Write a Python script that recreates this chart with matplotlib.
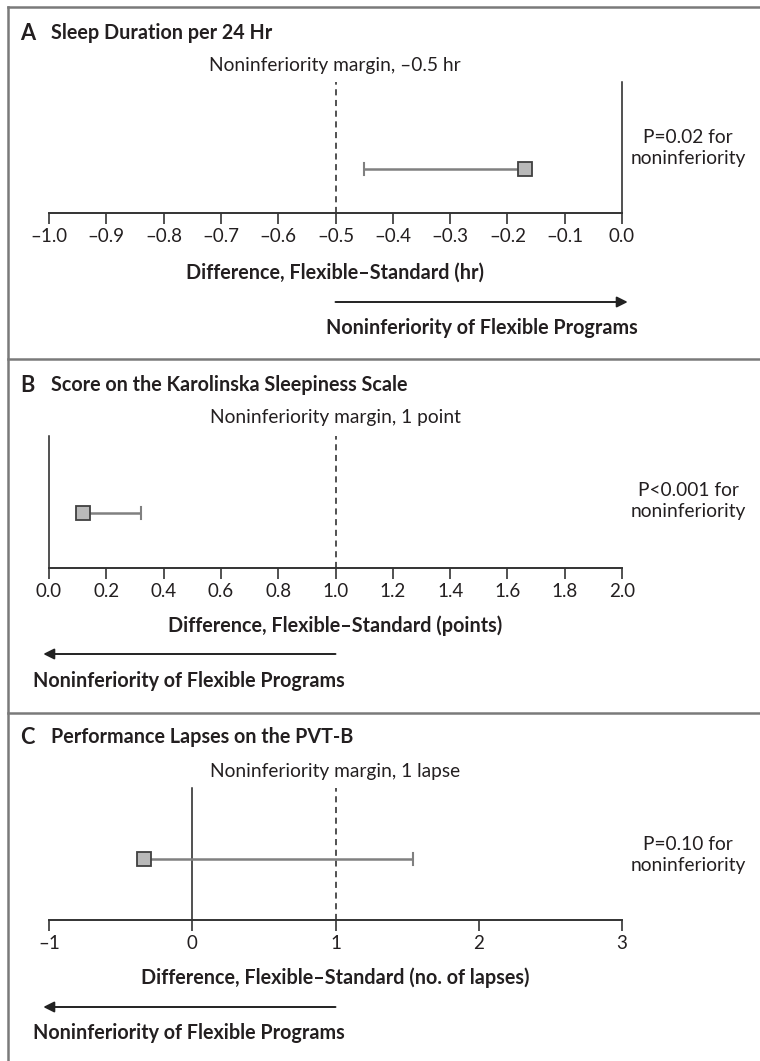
import numpy as np
import matplotlib.pyplot as plt
from matplotlib.lines import Line2D
import matplotlib.transforms as mtransforms

plt.rcParams['font.family'] = ['Lato', 'DejaVu Sans']

# data
panel_letters = ['A', 'B', 'C']
panel_titles = ['Sleep Duration per 24 Hr',
                'Score on the Karolinska Sleepiness Scale',
                'Performance Lapses on the PVT-B']
margin_labels = ['Noninferiority margin, \u20130.5 hr',
                 'Noninferiority margin, 1 point',
                 'Noninferiority margin, 1 lapse']
margins = [-0.5, 1.0, 1.0]
estimates = [-0.17, 0.12, -0.34]
ci_bounds = [-0.45, 0.32, 1.54]
p_labels = ['P=0.02 for\nnoninferiority',
            'P<0.001 for\nnoninferiority',
            'P=0.10 for\nnoninferiority']
x_labels = ['Difference, Flexible\u2013Standard (hr)',
            'Difference, Flexible\u2013Standard (points)',
            'Difference, Flexible\u2013Standard (no. of lapses)']
ticks_a = [-1.0, -0.9, -0.8, -0.7, -0.6, -0.5, -0.4, -0.3, -0.2, -0.1, 0.0]
ticks_b = [0.0, 0.2, 0.4, 0.6, 0.8, 1.0, 1.2, 1.4, 1.6, 1.8, 2.0]
ticks_c = [-1, 0, 1, 2, 3]
ticklabels_a = ['\u20131.0', '\u20130.9', '\u20130.8', '\u20130.7', '\u20130.6', '\u20130.5',
                '\u20130.4', '\u20130.3', '\u20130.2', '\u20130.1', '0.0']
ticklabels_b = ['0.0', '0.2', '0.4', '0.6', '0.8', '1.0', '1.2', '1.4', '1.6', '1.8', '2.0']
ticklabels_c = ['\u20131', '0', '1', '2', '3']
arrow_right = [True, False, False]
arrow_text = 'Noninferiority of Flexible Programs'

all_ticks = [ticks_a, ticks_b, ticks_c]
all_ticklabels = [ticklabels_a, ticklabels_b, ticklabels_c]

# layout in pixels (figure is 760 x 1061)
W, H = 760, 1061
AX_LEFT, AX_RIGHT = 49, 622
axis_top = [82, 436, 788]
axis_base = [213, 568, 920]
row_y = [169, 513, 859]
title_y = [33, 385, 737]
margin_y = [65, 418, 772]
p_y = [148, 501, 855]
xlabel_y = [273, 626, 978]
arrow_y = [302, 654, 1007]
arrowtext_y = [328, 681, 1033]
arrowtext_x = [482, 189, 189]
dividers = [359, 713]

TXT = '#231f20'
FRAME = '#7a7a7a'
FS_TICK = 13.5
FS_TEXT = 13.8
FS_BOLD = 14.2


def fx(px):
    return px / W


def fy(py):
    return 1 - py / H


fig = plt.figure(figsize=(7.6, 10.61), dpi=100)

# frame: top, left, dividers
fig.add_artist(Line2D([fx(8), fx(W)], [fy(7), fy(7)], color=FRAME, lw=1.8))
fig.add_artist(Line2D([fx(8), fx(8)], [fy(7), fy(H)], color=FRAME, lw=1.8))
for d in dividers:
    fig.add_artist(Line2D([fx(8), fx(W)], [fy(d), fy(d)], color=FRAME, lw=1.8))

for i in range(3):
    ticks = all_ticks[i]
    ax = fig.add_axes([fx(AX_LEFT), fy(axis_base[i]),
                       fx(AX_RIGHT) - fx(AX_LEFT),
                       (axis_base[i] - axis_top[i]) / H])
    ax.set_xlim(ticks[0], ticks[-1])
    y_row = (axis_base[i] - row_y[i]) / (axis_base[i] - axis_top[i])
    ax.set_ylim(0, 1)
    for s in ['top', 'right', 'left']:
        ax.spines[s].set_visible(False)
    ax.spines['bottom'].set_color('#333333')
    ax.spines['bottom'].set_linewidth(1.4)
    ax.set_yticks([])
    ax.set_xticks(ticks)
    ax.set_xticklabels(all_ticklabels[i])
    ax.tick_params(axis='x', direction='out', length=8, width=1.2, color='#333333',
                   labelsize=FS_TICK, labelcolor=TXT, pad=3)
    ax.patch.set_alpha(0)

    # zero line and noninferiority margin
    ax.axvline(0, color='#222222', lw=1.1, clip_on=False)
    ax.axvline(margins[i], color='#222222', lw=1.1, ls=(0, (4, 3)), clip_on=False)

    # confidence interval and estimate
    ax.plot([ci_bounds[i], estimates[i]], [y_row, y_row], color='#808080', lw=1.8,
            solid_capstyle='butt', zorder=3)
    ax.plot([ci_bounds[i], ci_bounds[i]], [y_row - 0.045, y_row + 0.045],
            color='#808080', lw=1.5, zorder=3)
    ax.plot(estimates[i], y_row, marker='s', ms=10.5, mfc='#b9b9b9', mec='#404040',
            mew=1.3, zorder=4, clip_on=False)

    # texts
    fig.text(fx(20), fy(title_y[i]), panel_letters[i], fontsize=FS_BOLD + 1.5,
             fontweight='bold', color=TXT, va='center', ha='left')
    fig.text(fx(51), fy(title_y[i]), panel_titles[i], fontsize=FS_BOLD,
             fontweight='bold', color=TXT, va='center', ha='left')
    fig.text(fx(335), fy(margin_y[i]), margin_labels[i], fontsize=FS_TEXT, color=TXT,
             va='center', ha='center')
    fig.text(fx(688), fy(p_y[i]), p_labels[i], fontsize=FS_TEXT, color=TXT,
             va='center', ha='center', linespacing=1.35)
    fig.text(fx((AX_LEFT + AX_RIGHT) / 2), fy(xlabel_y[i]), x_labels[i], fontsize=FS_BOLD,
             fontweight='bold', color=TXT, va='center', ha='center')

    # arrow toward noninferiority
    trans = mtransforms.blended_transform_factory(ax.transData, fig.transFigure)
    x_end = ticks[-1] + 0.01 * (ticks[-1] - ticks[0]) if arrow_right[i] \
        else ticks[0] - 0.01 * (ticks[-1] - ticks[0])
    ax.annotate('', xy=(x_end, fy(arrow_y[i])), xytext=(margins[i], fy(arrow_y[i])),
                xycoords=trans, textcoords=trans, annotation_clip=False,
                arrowprops=dict(arrowstyle='-|>', color='#222222', lw=1.4,
                                mutation_scale=16, shrinkA=0, shrinkB=0))
    fig.text(fx(arrowtext_x[i]), fy(arrowtext_y[i]), arrow_text, fontsize=FS_BOLD,
             fontweight='bold', color=TXT, va='center', ha='center')

fig.savefig('out.png', dpi=100, facecolor='white')
